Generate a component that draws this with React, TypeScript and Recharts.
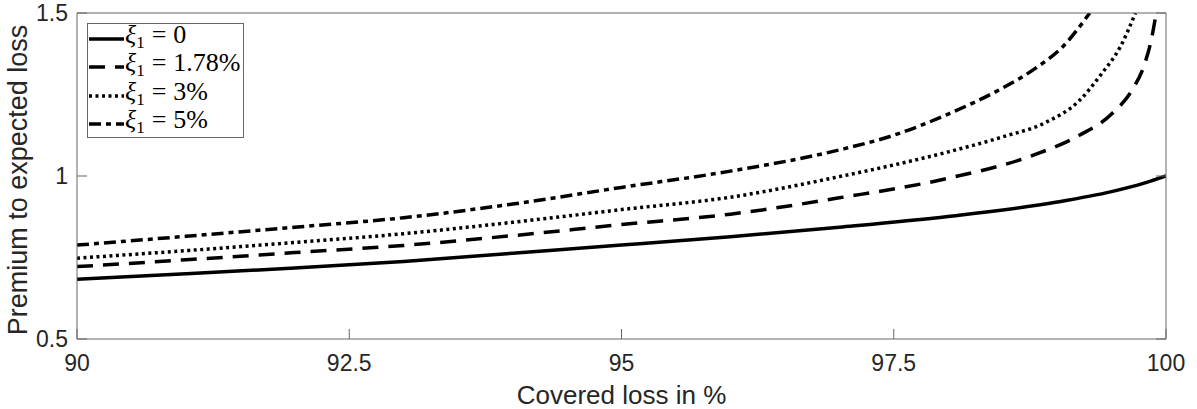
import { LineChart, Line, XAxis, YAxis, Legend } from 'recharts';

// covered loss (%) and premium / expected loss, one pair of arrays per xi_1
const coverageXi0 = [90, 91, 92, 93, 94, 95, 96, 97, 98, 99, 99.5, 99.8, 100];
const premiumXi0 = [0.683, 0.7, 0.718, 0.738, 0.763, 0.788, 0.814, 0.843, 0.876, 0.92, 0.952, 0.978, 1.0];

const coverageXi178 = [90, 91, 92, 93, 94, 95, 96, 97, 98, 98.8, 99.2, 99.5, 99.7, 99.8, 99.87, 99.91];
const premiumXi178 = [0.722, 0.743, 0.765, 0.787, 0.817, 0.851, 0.883, 0.933, 0.993, 1.066, 1.124, 1.19, 1.27, 1.34, 1.426, 1.5];

const coverageXi3 = [90, 91, 92, 93, 94, 95, 96, 97, 98, 98.5, 98.9, 99.2, 99.4, 99.58, 99.72];
const premiumXi3 = [0.748, 0.771, 0.796, 0.823, 0.858, 0.897, 0.935, 0.998, 1.074, 1.12, 1.165, 1.23, 1.31, 1.396, 1.5];

const coverageXi5 = [90, 91, 92, 93, 94, 95, 96, 97, 97.5, 98, 98.5, 98.8, 99.05, 99.3];
const premiumXi5 = [0.788, 0.815, 0.843, 0.872, 0.914, 0.965, 1.015, 1.08, 1.125, 1.19, 1.27, 1.33, 1.396, 1.5];

const xTicks = [90, 92.5, 95, 97.5, 100];
const yTicks = [0.5, 1, 1.5];
const seriesLabels = ['0', '1.78%', '3%', '5%'];

const toPoints = (xs: number[], ys: number[]) => xs.map((x, i) => ({ x, y: ys[i] }));

const series = [
  { key: 'xi0', data: toPoints(coverageXi0, premiumXi0), label: seriesLabels[0], dash: undefined },
  { key: 'xi178', data: toPoints(coverageXi178, premiumXi178), label: seriesLabels[1], dash: '16 10' },
  { key: 'xi3', data: toPoints(coverageXi3, premiumXi3), label: seriesLabels[2], dash: '3 3.5' },
  { key: 'xi5', data: toPoints(coverageXi5, premiumXi5), label: seriesLabels[3], dash: '12 5 5 5' },
];

const FONT = '"Liberation Sans", Arial, Helvetica, sans-serif';
const TEXT = '#262626';
const AXIS = '#666';
const TICK_LEN = 10;
const LINE_W = 3.5;

// MATLAB style: ticks point into the box, labels outside
const BottomTick = (props: any) => {
  const { x, y, payload } = props;
  return (
    <g>
      <line x1={x} y1={y} x2={x} y2={y - TICK_LEN} stroke={AXIS} />
      <text x={x} y={y + 32} textAnchor="middle" fontSize={23} fontFamily={FONT} fill={TEXT}>
        {payload.value}
      </text>
    </g>
  );
};

const TopTick = (props: any) => {
  const { x, y } = props;
  return <line x1={x} y1={y} x2={x} y2={y + TICK_LEN} stroke={AXIS} />;
};

const LeftTick = (props: any) => {
  const { x, y, payload } = props;
  return (
    <g>
      <line x1={x} y1={y} x2={x + TICK_LEN} y2={y} stroke={AXIS} />
      <text x={x - 9} y={y + 8} textAnchor="end" fontSize={23} fontFamily={FONT} fill={TEXT}>
        {payload.value}
      </text>
    </g>
  );
};

const RightTick = (props: any) => {
  const { x, y } = props;
  return <line x1={x} y1={y} x2={x - TICK_LEN} y2={y} stroke={AXIS} />;
};

const YLabel = (props: any) => {
  const { viewBox } = props;
  const cx = 27;
  const cy = viewBox.y + viewBox.height / 2 + 4;
  return (
    <text
      x={cx}
      y={cy}
      transform={`rotate(-90, ${cx}, ${cy})`}
      textAnchor="middle"
      fontSize={27}
      fontFamily={FONT}
      fill={TEXT}
    >
      Premium to expected loss
    </text>
  );
};

const LegendBox = () => (
  <div
    style={{
      border: `1px solid ${AXIS}`,
      background: '#fff',
      width: 157,
      height: 115,
      boxSizing: 'border-box',
      paddingTop: 1,
    }}
  >
    {series.map((s) => (
      <div key={s.key} style={{ display: 'flex', alignItems: 'center', height: 28.3 }}>
        <svg width={37} height={10} style={{ display: 'block', flex: 'none' }}>
          <line x1={1} y1={5} x2={36} y2={5} stroke="#000" strokeWidth={LINE_W} strokeDasharray={s.dash} />
        </svg>
        <span
          style={{
            fontFamily: '"Liberation Serif", "Times New Roman", serif',
            fontSize: 26,
            color: '#000',
            whiteSpace: 'nowrap',
            lineHeight: '28px',
          }}
        >
          <i>ξ</i>
          <sub style={{ fontSize: 17, verticalAlign: '-5px' }}>1</sub>
          <span style={{ margin: '0 7px' }}>=</span>
          {s.label}
        </span>
      </div>
    ))}
  </div>
);

const App = () => {
  return (
    <div style={{ position: 'absolute', left: 0, top: 0, width: 1197, height: 409, background: '#fff' }}>
      <LineChart width={1197} height={409} margin={{ top: 0, right: 0, bottom: 0, left: 0 }}>
        <XAxis
          type="number"
          dataKey="x"
          domain={[90, 100]}
          ticks={xTicks}
          allowDataOverflow
          height={70}
          stroke={AXIS}
          tickSize={0}
          tickMargin={0}
          tick={BottomTick}
          label={{
            value: 'Covered loss in %',
            position: 'insideBottom',
            offset: 5,
            fontSize: 26,
            fontFamily: FONT,
            fill: TEXT,
          }}
        />
        <XAxis
          xAxisId="top"
          orientation="top"
          type="number"
          domain={[90, 100]}
          ticks={xTicks}
          allowDataOverflow
          height={13}
          stroke={AXIS}
          tickSize={0}
          tickMargin={0}
          tick={TopTick}
        />
        <YAxis
          type="number"
          domain={[0.5, 1.5]}
          ticks={yTicks}
          allowDataOverflow
          width={77}
          stroke={AXIS}
          tickSize={0}
          tickMargin={0}
          tick={LeftTick}
          label={{ content: YLabel }}
        />
        <YAxis
          yAxisId="right"
          orientation="right"
          type="number"
          domain={[0.5, 1.5]}
          ticks={yTicks}
          allowDataOverflow
          width={31}
          stroke={AXIS}
          tickSize={0}
          tickMargin={0}
          tick={RightTick}
        />
        <Legend
          layout="vertical"
          align="center"
          verticalAlign="middle"
          content={LegendBox}
          wrapperStyle={{ left: 87, top: 23, width: 157, height: 115 }}
        />
        {series.map((s) => (
          <Line
            key={s.key}
            data={s.data}
            dataKey="y"
            type="monotone"
            stroke="#000"
            strokeWidth={LINE_W}
            strokeDasharray={s.dash}
            dot={false}
            activeDot={false}
            isAnimationActive={false}
          />
        ))}
      </LineChart>
    </div>
  );
};

export default App;
